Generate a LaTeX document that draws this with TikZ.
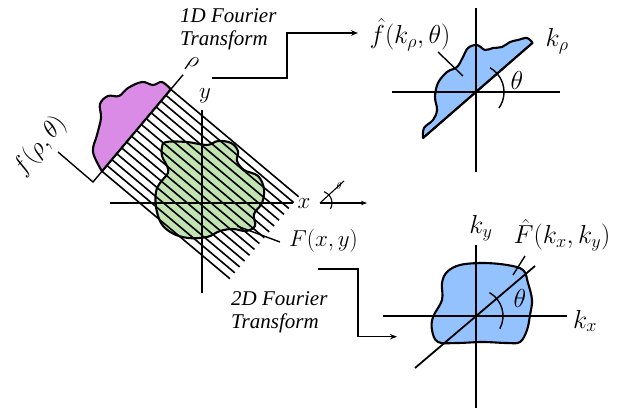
\RequirePackage{fix-cm}
\documentclass[tikz,border=0pt]{standalone}
\usepackage{fontspec}
\newfontfamily\ftfont{Liberation Serif}
\usetikzlibrary{arrows.meta}
\definecolor{purp}{RGB}{217,139,230}
\definecolor{grn}{RGB}{193,228,178}
\definecolor{blu}{RGB}{148,194,255}
\begin{document}
\begin{tikzpicture}[x=1pt,y=-1pt,
  axis/.style={line width=1.8pt},
  shp/.style={line width=2.1pt, line join=round},
  hatch/.style={line width=1.6pt},
  conn/.style={line width=1.4pt},
  arr/.style={conn,-{Stealth[length=7pt,width=5.5pt]}},
  ml/.style={inner sep=0pt, font=\fontsize{23}{27}\selectfont},
  mr/.style={inner sep=0pt, font=\fontsize{26}{30}\selectfont},
  ft/.style={inner sep=0pt, align=left, font=\ftfont\itshape\fontsize{21}{23}\selectfont}]
\useasboundingbox (0,0) rectangle (618,409);
% ---------- left: object and projection ----------
\draw[shp, fill=grn] plot[smooth cycle, tension=0.6] coordinates {
 (166,142) (187,142) (207,145) (218,141) (231,143) (238,151) (237,161) (244,170)
 (258,176) (264,189) (262,203) (254,214) (255,226) (246,231) (233,229) (220,231)
 (207,237) (188,238) (172,233) (161,223) (156,207) (156,192) (160,183) (168,173)
 (167,166) (162,156) (162,147)};
\foreach \i in {0,...,14}{
  \draw[hatch] ({93+(14+\i*7.64)*0.643},{182-(14+\i*7.64)*0.766}) -- ++(127.9,107.4);
}
\draw[shp, fill=purp] plot[smooth, tension=0.6] coordinates {
 (102,171.3) (93,152) (97,135) (101,118) (100,104) (108,96) (119,96) (128,88)
 (142,82) (153,85) (162,82) (170.8,89.3)} -- cycle;
\coordinate (C) at (93,182);
\coordinate (rhoend) at (183,74.8);
\coordinate (fend) at (58,152);
\draw[conn] (fend) -- (C) -- (rhoend);
\node[ml, rotate=-20] (rho) at (192,64) {$\rho$};
\node[inner sep=0pt, font=\fontsize{25}{29}\selectfont, rotate=50] (fpt) at (40,146) {$f(\rho,\theta)$};
\coordinate (O) at (202,202.7);
\draw[axis] (110,202.7) -- (293,202.7);
\draw[axis] (202,110) -- (202,293);
\node[ml] (xl) at (304,204) {$x$};
\node[ml] (yl) at (205,96) {$y$};
\coordinate (Fp1) at (237,226);
\coordinate (Fp2) at (280,242);
\draw[conn] (Fp1) -- (Fp2);
\node[ml, anchor=west] (Fxy) at (289,241) {$F(x,y)$};
% small angle indicator
\coordinate (O2) at (320,203);
\coordinate (O2e) at (367,203);
\coordinate (O2d) at (344,181);
\draw[line width=1.1pt,-{Stealth[length=6pt,width=4.5pt]}] (O2) -- (O2e);
\draw[line width=1.1pt] (O2) -- (O2d);
\draw[line width=1.1pt] (O2) ++(-30:12pt) arc[start angle=-30, end angle=70, radius=12pt];
\node[inner sep=0pt, font=\fontsize{10}{12}\selectfont] (thsmall) at (339,186) {$\theta$};
% ---------- texts and connectors ----------
\node[ft, anchor=north west] (ft1) at (180,8) {1D Fourier\\Transform};
\node[ft, anchor=north west] (ft2) at (231,291) {2D Fourier\\Transform};
\coordinate (a1) at (212,78);
\coordinate (a2) at (358,33);
\draw[arr] (a1) -- (287,78) -- (287,33) -- (a2);
\coordinate (b1) at (318,269);
\coordinate (b2) at (397,336.7);
\draw[arr] (b1) -- (358,269) -- (358,336.7) -- (b2);
% ---------- top right ----------
\coordinate (P) at (476,92);
\draw[shp, fill=blu] plot[smooth, tension=0.6] coordinates {
 (423,138) (424,128) (433,120) (437,110) (435,97) (438,83) (447,72) (457,67)
 (463,57) (468,48) (477,45) (485,50) (493,48) (502,47) (510,42) (518,40) (527,38)
 (532.6,42.8)} -- cycle;
\draw[axis] (392,92) -- (560,92);
\draw[axis] (476,8) -- (476,172);
\draw[axis] (423,138) -- (532.6,42.8);
\draw[conn] (P) ++(-35:28pt) arc[start angle=-35, end angle=60, radius=28pt];
\node[mr] (fhat) at (410,35) {$\hat f(k_\rho,\theta)$};
\coordinate (fp1) at (438,52);
\coordinate (fp2) at (463,76);
\draw[conn] (fp1) -- (fp2);
\node[mr] (krho) at (557,41) {$k_\rho$};
\node[mr] (th1) at (517,80) {$\theta$};
% ---------- bottom right ----------
\coordinate (Q) at (476,316);
\draw[shp, fill=blu] plot[smooth cycle, tension=0.6] coordinates {
 (447,272) (460,265) (483,263) (507,265) (523,270) (528,283) (532,300) (530,315)
 (527,330) (520,342) (507,343) (483,342) (457,343) (438,342) (432,330) (433,317)
 (442,300) (442,283)};
\draw[axis] (383,316) -- (567,316);
\draw[axis] (476,245) -- (476,408);
\draw[axis] (415,368) -- (535,266);
\draw[conn] (Q) ++(-28:27pt) arc[start angle=-28, end angle=60, radius=27pt];
\node[mr] (ky) at (481,228) {$k_y$};
\node[mr] (Fhat) at (562,235) {$\hat F(k_x,k_y)$};
\coordinate (Fh1) at (525,256);
\coordinate (Fh2) at (513,275);
\draw[conn] (Fh1) -- (Fh2);
\node[mr] (th2) at (520,298) {$\theta$};
\node[mr] (kx) at (585,321) {$k_x$};
\end{tikzpicture}
\end{document}
